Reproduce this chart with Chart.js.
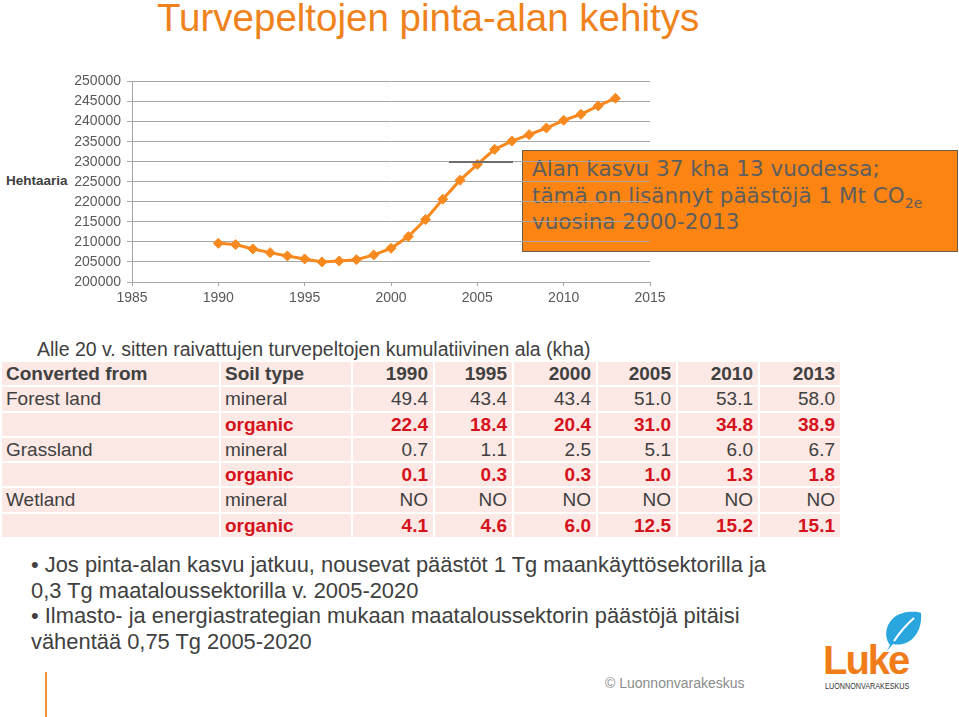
<!DOCTYPE html>
<html>
<head>
<meta charset="utf-8">
<script src="https://cdn.jsdelivr.net/npm/chart.js@4/dist/chart.umd.min.js"></script>
<style>
html,body{margin:0;padding:0;background:#fff;}
body{width:959px;height:717px;position:relative;overflow:hidden;font-family:"Liberation Sans",Arial,sans-serif;color:#404040;}
.abs{position:absolute;white-space:nowrap;}
#title{left:157px;top:-4px;font-size:38.5px;line-height:44px;color:#f0821c;}
#chartWrap{position:absolute;left:0;top:60px;width:700px;height:260px;z-index:2;}
#yTitle{left:6px;top:173px;font-size:13.5px;font-weight:bold;color:#404040;line-height:16px;}
#box{position:absolute;box-sizing:border-box;left:522px;right:1px;top:150px;height:102px;background:#fb8412;border:1px solid #6d5c4c;z-index:1;
  font-family:"DejaVu Sans",Verdana,sans-serif;font-size:21.5px;line-height:26.6px;color:#5e5e5e;padding:5px 0 0 9px;white-space:nowrap;}
#box sub{font-size:14px;vertical-align:-5px;line-height:0;}
#pointer{left:449px;top:161px;width:64px;height:2px;background:#6e6e6e;z-index:3;}
#subtitle{left:37px;top:338px;font-size:19.5px;line-height:22px;color:#404040;}
#table{position:absolute;left:2px;top:362px;display:grid;grid-template-columns:217px 130px 80px 77px 82px 78px 80px 80px;
  grid-auto-rows:23.3px;gap:2px;font-size:19px;}
#table div{background:#fce8e5;line-height:23.3px;white-space:nowrap;overflow:hidden;}
#table .l{padding-left:4px;}
#table .r{text-align:right;padding-right:5px;}
#table .h{font-weight:bold;color:#404040;}
#table .o{font-weight:bold;color:#d5121b;}
#notes{left:31px;top:552px;font-size:21.9px;line-height:25.7px;color:#404040;}
#copy{left:605px;top:675px;font-size:14px;line-height:16px;color:#8c8c8c;}
#vline{left:45px;top:672px;width:2px;height:45px;background:#f39234;}
#luke{left:823px;top:637px;font-size:40px;font-weight:bold;color:#f07d19;letter-spacing:-2px;line-height:46px;}
#lukesub{left:825px;top:681px;font-size:9px;line-height:10px;color:#333;transform:scaleX(0.8);transform-origin:0 0;}
#leaf{position:absolute;left:878px;top:608px;}
</style>
</head>
<body>
<div id="title" class="abs">Turvepeltojen pinta-alan kehitys</div>
<div id="yTitle" class="abs">Hehtaaria</div>
<div id="box">Alan kasvu 37 kha 13 vuodessa;<br>tämä on lisännyt päästöjä 1 Mt CO<sub>2e</sub><br>vuosina 2000-2013</div>
<div id="chartWrap"><canvas id="c" width="700" height="260"></canvas></div>
<div id="pointer" class="abs"></div>
<div id="subtitle" class="abs">Alle 20 v. sitten raivattujen turvepeltojen kumulatiivinen ala (kha)</div>
<div id="table"></div>
<div id="notes" class="abs">• Jos pinta-alan kasvu jatkuu, nousevat päästöt 1 Tg maankäyttösektorilla ja<br>0,3 Tg maataloussektorilla v. 2005-2020<br>• Ilmasto- ja energiastrategian mukaan maataloussektorin päästöjä pitäisi<br>vähentää 0,75 Tg 2005-2020</div>
<div id="copy" class="abs">© Luonnonvarakeskus</div>
<div id="vline" class="abs"></div>
<svg id="leaf" width="48" height="46" viewBox="0 0 48 46">
  <path d="M12 37 C4 27 9 9 25 5 C33 3 40 4 43 5 C44 15 41 28 30 34 C24 37 19 37 15 36 L9 43 Z" fill="#2aa6df"/>
  <path d="M16 33 C22 24 28 17 36 10" stroke="#fff" stroke-width="2.2" fill="none"/>
</svg>
<div id="luke" class="abs">Luke</div>
<div id="lukesub" class="abs">LUONNONVARAKESKUS</div>
<script>
// ---- chart data ----
const years = [1990,1991,1992,1993,1994,1995,1996,1997,1998,1999,2000,2001,2002,2003,2004,2005,2006,2007,2008,2009,2010,2011,2012,2013];
const area  = [209650,209325,208250,207325,206500,205750,205000,205250,205575,206750,208400,211325,215575,220650,225400,229325,233075,235150,236750,238400,240325,241825,243900,245825];
const xRange = [1985, 2015];
const yRange = [200000, 250000];

// ---- table data ----
const tableYears    = ['1990','1995','2000','2005','2010','2013'];
const convertedFrom = ['Forest land','','Grassland','','Wetland',''];
const soilType      = ['mineral','organic','mineral','organic','mineral','organic'];
const forestMineral = ['49.4','43.4','43.4','51.0','53.1','58.0'];
const forestOrganic = ['22.4','18.4','20.4','31.0','34.8','38.9'];
const grassMineral  = ['0.7','1.1','2.5','5.1','6.0','6.7'];
const grassOrganic  = ['0.1','0.3','0.3','1.0','1.3','1.8'];
const wetMineral    = ['NO','NO','NO','NO','NO','NO'];
const wetOrganic    = ['4.1','4.6','6.0','12.5','15.2','15.1'];
const tableRows = [forestMineral, forestOrganic, grassMineral, grassOrganic, wetMineral, wetOrganic];

// build table
const tbl = document.getElementById('table');
function cell(txt, cls){ const d=document.createElement('div'); d.className=cls; d.textContent=txt; tbl.appendChild(d); }
cell('Converted from','l h'); cell('Soil type','l h');
tableYears.forEach(y=>cell(y,'r h'));
tableRows.forEach((vals,i)=>{
  const org = soilType[i]==='organic';
  cell(convertedFrom[i],'l');
  cell(soilType[i], org ? 'l o' : 'l');
  vals.forEach(v=>cell(v, org ? 'r o' : 'r'));
});

// chart
const lineColor = '#f7891f';
const gridColor = '#a6a6a6';
const tickFont = {family:'Liberation Sans', size:14};
new Chart(document.getElementById('c'), {
  type:'line',
  data:{datasets:[{
    data: years.map((y,i)=>({x:y, y:area[i]})),
    borderColor: lineColor, backgroundColor: lineColor,
    borderWidth: 3, tension: 0,
    pointStyle:'rectRot', pointRadius:5, pointBorderWidth:1,
    pointBackgroundColor: lineColor, pointBorderColor: lineColor
  }]},
  options:{
    responsive:false, animation:false,
    layout:{padding:{left:0,right:50,top:21.5,bottom:0}},
    plugins:{legend:{display:false}, tooltip:{enabled:false}},
    scales:{
      x:{type:'linear', min:xRange[0], max:xRange[1],
         ticks:{stepSize:5, color:'#595959', font:tickFont, padding:4, callback:v=>String(v)},
         grid:{drawOnChartArea:false, drawTicks:true, tickLength:4, color:gridColor},
         border:{color:gridColor, width:1},
         afterFit:s=>{s.height=38;}},
      y:{min:yRange[0], max:yRange[1],
         ticks:{stepSize:5000, color:'#595959', font:tickFont, padding:6, callback:v=>String(v)},
         grid:{color:gridColor, lineWidth:1, tickLength:5},
         border:{color:gridColor, width:1},
         afterFit:s=>{s.width=132;}}
    }
  }
});
</script>
</body>
</html>
